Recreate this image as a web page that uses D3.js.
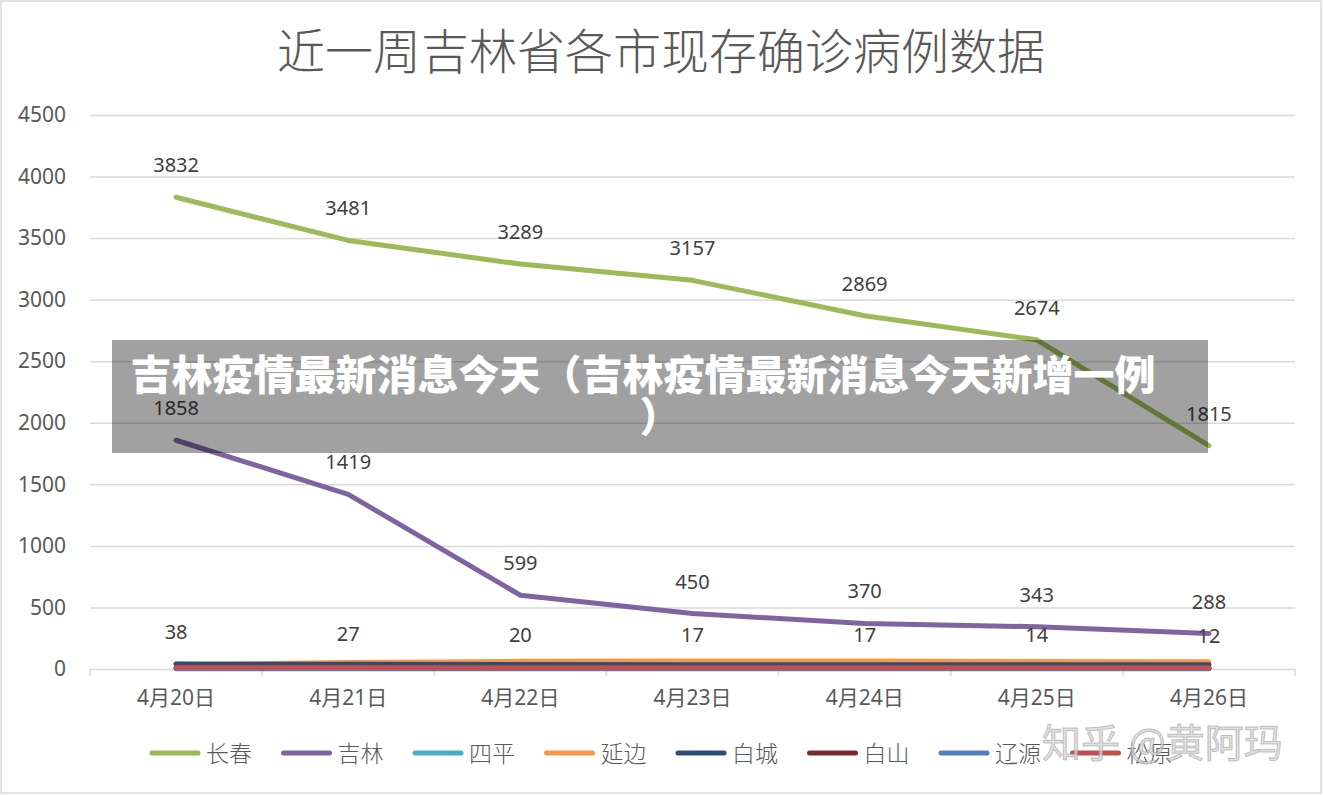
<!DOCTYPE html>
<html lang="zh">
<head>
<meta charset="utf-8">
<title>近一周吉林省各市现存确诊病例数据</title>
<script src="https://d3js.org/d3.v7.min.js"></script>
<style>
  body { margin: 0; background: #fff; }
  svg { display: block; }
</style>
</head>
<body>
<script>
// data
var dates = ["4月20日", "4月21日", "4月22日", "4月23日", "4月24日", "4月25日", "4月26日"];
var cities = ["长春", "吉林", "四平", "延边", "白城", "白山", "辽源", "松原"];
var colors = ["#9bbb59", "#8064a2", "#4bacc6", "#f79646", "#2c4d75", "#772c2a", "#4f81bd", "#c0504d"];
var changchun = [3832, 3481, 3289, 3157, 2869, 2674, 1815];
var jilin = [1858, 1419, 599, 450, 370, 343, 288];
var siping = [38, 27, 20, 17, 17, 14, 12];
var yanbian = [36, 52, 62, 66, 64, 60, 58];
var baicheng = [40, 38, 36, 35, 35, 34, 34];
var baishan = [6, 6, 5, 5, 5, 5, 5];
var liaoyuan = [3, 3, 3, 3, 3, 3, 3];
var songyuan = [12, 12, 11, 11, 10, 10, 10];
var yTicks = [0, 500, 1000, 1500, 2000, 2500, 3000, 3500, 4000, 4500];
var labelled = [true, true, true, false, false, false, false, false];

var series = [changchun, jilin, siping, yanbian, baicheng, baishan, liaoyuan, songyuan];

var W = 1323, H = 795;
var numFont = "'Noto Sans', 'Noto Sans CJK SC', sans-serif";
var cjkFont = "'Noto Sans CJK SC', sans-serif";

var svg = d3.select("body").append("svg")
  .attr("width", W)
  .attr("height", H);

// outer frame
svg.append("rect")
  .attr("x", 1).attr("y", 1)
  .attr("width", W - 3).attr("height", H - 3)
  .attr("fill", "#fff")
  .attr("stroke", "#d9d9d9")
  .attr("stroke-width", 1.5);

// title
svg.append("text")
  .attr("x", 661).attr("y", 69)
  .attr("text-anchor", "middle")
  .attr("font-family", cjkFont)
  .attr("font-weight", 300)
  .attr("font-size", "48px")
  .attr("fill", "#595959")
  .text("近一周吉林省各市现存确诊病例数据");

var x = d3.scaleBand().domain(dates).range([90, 1295]).padding(0);
var y = d3.scaleLinear().domain([0, 4500]).range([669, 115]);
var cx = function(d) { return x(d) + x.bandwidth() / 2; };

// y axis with gridlines
var yAxis = svg.append("g")
  .attr("transform", "translate(90,0)")
  .call(d3.axisLeft(y).tickValues(yTicks).tickFormat(d3.format("d"))
    .tickSize(-(1295 - 90)).tickPadding(24));
yAxis.select(".domain").remove();
yAxis.selectAll(".tick line").attr("stroke", "#d9d9d9").attr("stroke-width", 1.5);
yAxis.selectAll(".tick text")
  .attr("font-family", numFont)
  .attr("font-size", "21px")
  .attr("fill", "#595959");
yAxis.selectAll(".tick").filter(function(d) { return d === 0; }).select("line").remove();

// x axis
var xAxis = svg.append("g")
  .attr("transform", "translate(0,669)")
  .call(d3.axisBottom(x).tickSize(0).tickPadding(21));
xAxis.select(".domain").attr("stroke", "#d9d9d9").attr("stroke-width", 1.5);
xAxis.selectAll(".tick text")
  .attr("font-family", numFont)
  .attr("font-size", "21px")
  .attr("fill", "#595959");
xAxis.selectAll("line.sep")
  .data(dates.concat(["end"]))
  .enter().append("line")
  .attr("class", "sep")
  .attr("x1", function(d) { return d === "end" ? 1295 : x(d); })
  .attr("x2", function(d) { return d === "end" ? 1295 : x(d); })
  .attr("y1", 0).attr("y2", 7)
  .attr("stroke", "#d9d9d9").attr("stroke-width", 1.5);

// lines
var line = d3.line()
  .x(function(d, i) { return cx(dates[i]); })
  .y(function(d) { return y(d); });

svg.append("g").selectAll("path")
  .data(series)
  .enter().append("path")
  .attr("d", line)
  .attr("fill", "none")
  .attr("stroke", function(d, i) { return colors[i]; })
  .attr("stroke-width", 5)
  .attr("stroke-linecap", "round")
  .attr("stroke-linejoin", "round");

// data labels
series.forEach(function(s, k) {
  if (!labelled[k]) return;
  svg.append("g").selectAll("text")
    .data(s)
    .enter().append("text")
    .attr("x", function(d, i) { return cx(dates[i]); })
    .attr("y", function(d) { return y(d) - 25; })
    .attr("text-anchor", "middle")
    .attr("font-family", numFont)
    .attr("font-size", "20px")
    .attr("fill", "#404040")
    .text(function(d) { return d; });
});

// legend
var legend = svg.append("g").selectAll("g")
  .data(cities)
  .enter().append("g")
  .attr("transform", function(d, i) { return "translate(" + (152 + i * 131.5) + ",753)"; });
legend.append("line")
  .attr("x1", 0).attr("x2", 46)
  .attr("stroke", function(d, i) { return colors[i]; })
  .attr("stroke-width", 5)
  .attr("stroke-linecap", "round");
legend.append("text")
  .attr("x", 54).attr("y", 9)
  .attr("font-family", cjkFont)
  .attr("font-weight", 300)
  .attr("font-size", "23px")
  .attr("fill", "#595959")
  .text(function(d) { return d; });

// watermark
svg.append("text")
  .attr("x", 1042).attr("y", 757)
  .attr("font-family", cjkFont)
  .attr("font-size", "39px")
  .attr("fill", "rgba(215,215,215,0.75)")
  .attr("stroke", "rgba(150,150,150,0.55)")
  .attr("stroke-width", 1)
  .text("知乎 @黄阿玛");

// overlay banner
svg.append("rect")
  .attr("x", 112).attr("y", 340)
  .attr("width", 1096).attr("height", 113)
  .attr("fill", "rgba(0,0,0,0.37)");
var banner = svg.append("text")
  .attr("text-anchor", "middle")
  .attr("font-family", cjkFont)
  .attr("font-weight", 900)
  .attr("font-size", "41px")
  .attr("fill", "#fff");
banner.append("tspan").attr("x", 643).attr("y", 390)
  .text("吉林疫情最新消息今天（吉林疫情最新消息今天新增一例");
banner.append("tspan").attr("x", 660).attr("y", 432)
  .text("）");
</script>
</body>
</html>
